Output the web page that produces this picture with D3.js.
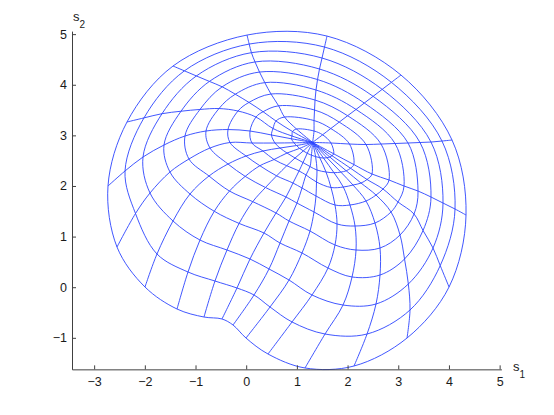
<!DOCTYPE html>
<html><head><meta charset="utf-8">
<script src="https://cdn.jsdelivr.net/npm/d3@7"></script>
<style>body{margin:0;background:#fff}svg{display:block}</style>
</head><body>
<svg id="chart" width="554" height="415"></svg>
<script>
// axis limits and ticks
const xLimits = [-3.437, 5.035];
const yLimits = [-1.623, 5.06];
const xTicks = [-3, -2, -1, 0, 1, 2, 3, 4, 5];
const yTicks = [-1, 0, 1, 2, 3, 4, 5];

// image of the centre of the polar grid
const center = [1.31, 2.86];

// grid nodes: row = circle (r = 0.1 ... 1.0), column = spoke (20 spokes)
const ringX = [
  [1.673, 1.507, 1.338, 0.993, 0.914, 0.904, 0.894, 0.943, 0.993, 1.054, 1.127, 1.204, 1.287, 1.369, 1.450, 1.525, 1.594, 1.650, 1.693, 1.727],
  [2.038, 1.669, 1.338, 0.756, 0.588, 0.529, 0.499, 0.568, 0.667, 0.805, 0.963, 1.121, 1.259, 1.397, 1.575, 1.732, 1.867, 1.973, 2.058, 2.123],
  [2.364, 1.835, 1.348, 0.639, 0.333, 0.193, 0.075, 0.114, 0.331, 0.549, 0.800, 1.042, 1.180, 1.387, 1.673, 1.916, 2.107, 2.265, 2.384, 2.482],
  [2.660, 2.001, 1.358, 0.489, 0.055, -0.162, -0.359, -0.320, -0.004, 0.270, 0.600, 0.923, 1.101, 1.377, 1.752, 2.048, 2.364, 2.561, 2.699, 2.818],
  [2.936, 2.167, 1.377, 0.367, -0.215, -0.537, -0.793, -0.714, -0.359, -0.020, 0.380, 0.785, 1.002, 1.338, 1.792, 2.147, 2.541, 2.857, 2.995, 3.114],
  [3.193, 2.330, 1.407, 0.262, -0.474, -0.912, -1.208, -1.129, -0.734, -0.330, 0.130, 0.588, 0.845, 1.259, 1.752, 2.167, 2.640, 3.035, 3.311, 3.390],
  [3.429, 2.504, 1.446, 0.174, -0.726, -1.286, -1.622, -1.504, -1.109, -0.630, -0.140, 0.351, 0.667, 1.101, 1.614, 2.088, 2.640, 3.124, 3.489, 3.646],
  [3.646, 2.683, 1.496, 0.103, -0.983, -1.661, -2.036, -1.898, -1.444, -0.912, -0.379, 0.075, 0.450, 0.845, 1.298, 1.910, 2.561, 3.199, 3.686, 3.883],
  [3.863, 2.865, 1.545, 0.059, -1.219, -2.017, -2.391, -2.184, -1.760, -1.148, -0.616, -0.182, 0.154, 0.470, 0.904, 1.555, 2.384, 3.232, 3.828, 4.120],
  [4.061, 3.054, 1.594, 0.016, -1.444, -2.352, -2.727, -2.549, -1.997, -1.365, -0.833, -0.478, -0.260, -0.004, 0.430, 1.160, 2.127, 3.173, 4.002, 4.337]
];
const ringY = [
  [2.849, 3.011, 3.086, 3.125, 3.076, 2.987, 2.932, 2.853, 2.799, 2.742, 2.693, 2.645, 2.608, 2.580, 2.560, 2.552, 2.558, 2.572, 2.598, 2.635],
  [2.829, 3.135, 3.293, 3.362, 3.283, 3.135, 3.007, 2.849, 2.750, 2.651, 2.552, 2.463, 2.384, 2.315, 2.276, 2.262, 2.274, 2.300, 2.351, 2.424],
  [2.819, 3.262, 3.501, 3.584, 3.467, 3.362, 3.086, 2.849, 2.691, 2.523, 2.400, 2.296, 2.217, 2.078, 1.970, 1.979, 2.019, 2.058, 2.128, 2.236],
  [2.829, 3.388, 3.698, 3.817, 3.651, 3.481, 3.115, 2.859, 2.592, 2.400, 2.200, 2.058, 1.960, 1.802, 1.624, 1.624, 1.703, 1.821, 1.940, 2.118],
  [2.839, 3.512, 3.896, 4.042, 3.813, 3.530, 3.086, 2.750, 2.434, 2.190, 1.970, 1.782, 1.663, 1.486, 1.249, 1.209, 1.268, 1.486, 1.683, 1.999],
  [2.849, 3.639, 4.103, 4.251, 3.959, 3.512, 2.987, 2.533, 2.197, 1.900, 1.690, 1.466, 1.308, 1.110, 0.834, 0.735, 0.774, 1.031, 1.446, 1.900],
  [2.859, 3.771, 4.311, 4.451, 4.066, 3.477, 2.809, 2.276, 1.841, 1.500, 1.260, 1.071, 0.873, 0.676, 0.379, 0.202, 0.241, 0.557, 1.120, 1.782],
  [2.868, 3.909, 4.528, 4.634, 4.174, 3.428, 2.572, 1.861, 1.308, 0.932, 0.735, 0.557, 0.360, 0.142, -0.154, -0.352, -0.332, 0.063, 0.774, 1.663],
  [2.888, 4.048, 4.745, 4.804, 4.275, 3.345, 2.296, 1.456, 0.656, 0.300, 0.122, -0.016, -0.154, -0.391, -0.687, -0.925, -0.925, -0.450, 0.427, 1.545],
  [2.908, 4.192, 4.962, 4.982, 4.370, 3.264, 1.999, 0.794, 0.004, -0.431, -0.589, -0.628, -0.747, -1.004, -1.320, -1.596, -1.557, -1.004, 0.004, 1.426]
];

const W = 554, H = 415;
const box = {left: 72, right: 501.4, top: 31.1, bottom: 369.35};
const svg = d3.select('#chart');
svg.append('rect').attr('width', W).attr('height', H).attr('fill', '#fff');

const x = d3.scaleLinear().domain(xLimits).range([box.left, box.right]);
const y = d3.scaleLinear().domain(yLimits).range([box.bottom, box.top]);

const gridColor = '#2b44ff';
const g = svg.append('g');

const ringLine = d3.line().x(d => x(d[0])).y(d => y(d[1])).curve(d3.curveCatmullRomClosed.alpha(0.5));
const spokeLine = d3.line().x(d => x(d[0])).y(d => y(d[1])).curve(d3.curveCatmullRom.alpha(0.5));

ringX.forEach((row, i) => {
  const pts = row.map((vx, j) => [vx, ringY[i][j]]);
  g.append('path').attr('d', ringLine(pts)).attr('fill', 'none')
    .attr('stroke', gridColor).attr('stroke-width', 0.9);
});
const nSpokes = ringX[0].length;
for (let j = 0; j < nSpokes; j++) {
  const pts = [center].concat(ringX.map((row, i) => [row[j], ringY[i][j]]));
  g.append('path').attr('d', spokeLine(pts)).attr('fill', 'none')
    .attr('stroke', gridColor).attr('stroke-width', 0.9);
}

// axes
const fmt = d => (d < 0 ? '\u2212' + Math.abs(d) : String(d));
const xAxis = d3.axisBottom(x).tickValues(xTicks).tickFormat(fmt).tickSizeInner(-4).tickSizeOuter(0).tickPadding(7.5);
const yAxis = d3.axisLeft(y).tickValues(yTicks).tickFormat(fmt).tickSizeInner(-4).tickSizeOuter(0).tickPadding(5);

const gx = svg.append('g').attr('transform', `translate(0,${box.bottom})`).call(xAxis);
const gy = svg.append('g').attr('transform', `translate(${box.left},0)`).call(yAxis);
[gx, gy].forEach(a => {
  a.attr('font-family', '"Liberation Sans", Arial, Helvetica, sans-serif').attr('font-size', 12.5);
  a.selectAll('path.domain').attr('stroke', '#404040').attr('stroke-width', 1);
  a.selectAll('.tick line').attr('stroke', '#404040').attr('stroke-width', 1);
  a.selectAll('.tick text').attr('fill', '#1a1a1a');
});

// axis labels
const lab = svg.append('g').attr('font-family', '"Liberation Sans", Arial, Helvetica, sans-serif').attr('fill', '#1a1a1a');
const t1 = lab.append('text').attr('x', 513).attr('y', 371).attr('font-size', 13).text('s');
t1.append('tspan').attr('dy', 6.5).attr('font-size', 10).text('1');
const t2 = lab.append('text').attr('x', 73).attr('y', 21).attr('font-size', 13).text('s');
t2.append('tspan').attr('dy', 6.5).attr('font-size', 10).text('2');
</script>
</body></html>
